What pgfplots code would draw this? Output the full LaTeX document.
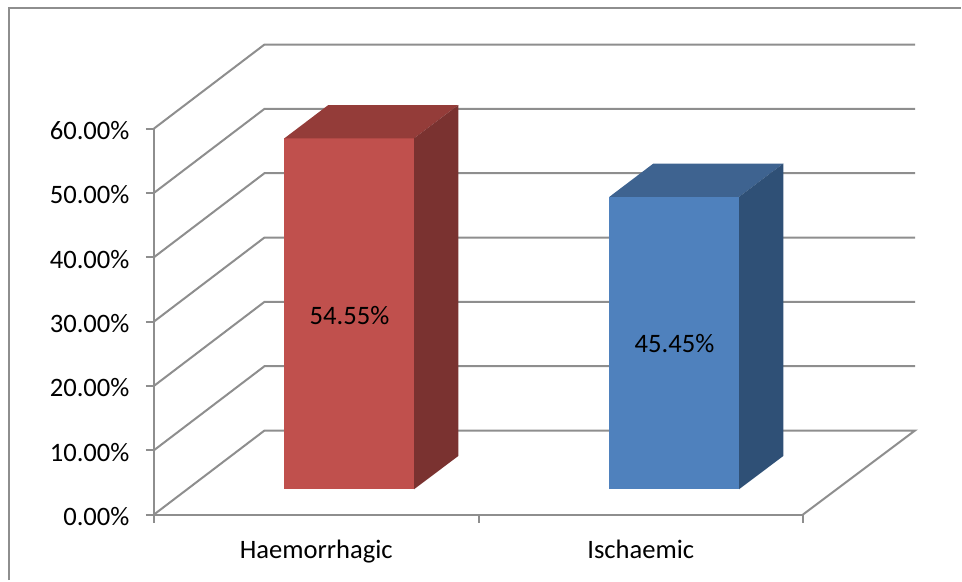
\documentclass[border=0pt]{standalone}
\usepackage{fontspec}
\setmainfont{Carlito}
\usepackage{pgfplots}
\pgfplotsset{compat=1.18}
\definecolor{gridc}{HTML}{8E8E8E}
\definecolor{redf}{HTML}{C0504D}
\definecolor{redt}{HTML}{943C39}
\definecolor{reds}{HTML}{7A3230}
\definecolor{bluef}{HTML}{4F81BD}
\definecolor{bluet}{HTML}{3E6390}
\definecolor{blues}{HTML}{2F5076}
\begin{document}
\begin{tikzpicture}
\begin{axis}[
    scale only axis,
    width=649pt,
    height=386pt,
    xmin=154, xmax=803,
    ymin=0, ymax=60,
    clip=false,
    axis x line*=bottom,
    axis y line*=left,
    axis line style={gridc, line width=2pt},
    tick align=outside,
    major tick length=8pt,
    ytick={0,10,20,30,40,50,60},
    yticklabels={0.00\%,10.00\%,20.00\%,30.00\%,40.00\%,50.00\%,60.00\%},
    y tick style={gridc, line width=2pt},
    xtick={316.25,640.75},
    xticklabels={Haemorrhagic,Ischaemic},
    x tick style={draw=none},
    extra x ticks={154,478.5,803},
    extra x tick labels={},
    extra x tick style={x tick style={draw=gridc, line width=2pt}},
    tick label style={font=\fontsize{26.6}{30}\selectfont, black},
    y tick label style={xshift=-13pt, yshift=-2pt},
    x tick label style={yshift=-14pt},
]
% outer frame, open at right and bottom
\addplot[gridc, line width=2pt, mark=none] coordinates {(9,-10.18) (9,78.74) (961,78.74)};
% floor
\addplot[gridc, line width=2pt, mark=none] coordinates {(154,0) (264.5,13.06) (915,13.06) (803,0)};
% walls
\addplot[gridc, line width=2pt, mark=none] coordinates {(154,10) (264.5,23.06) (915,23.06)};
\addplot[gridc, line width=2pt, mark=none] coordinates {(154,20) (264.5,33.06) (915,33.06)};
\addplot[gridc, line width=2pt, mark=none] coordinates {(154,30) (264.5,43.06) (915,43.06)};
\addplot[gridc, line width=2pt, mark=none] coordinates {(154,40) (264.5,53.06) (915,53.06)};
\addplot[gridc, line width=2pt, mark=none] coordinates {(154,50) (264.5,63.06) (915,63.06)};
\addplot[gridc, line width=2pt, mark=none] coordinates {(154,60) (264.5,73.06) (915,73.06)};
% Haemorrhagic 54.55
\addplot[fill=redf, draw=none, mark=none] coordinates {(284.3,3.92) (414,3.92) (414,58.47) (284.3,58.47)} --cycle;
\addplot[fill=redt, draw=none, mark=none] coordinates {(284.3,58.47) (414,58.47) (458.3,63.65) (328.3,63.65)} --cycle;
\addplot[fill=reds, draw=none, mark=none] coordinates {(414,3.92) (458.3,9.10) (458.3,63.65) (414,58.47)} --cycle;
% Ischaemic 45.45
\addplot[fill=bluef, draw=none, mark=none] coordinates {(609.3,3.92) (739,3.92) (739,49.37) (609.3,49.37)} --cycle;
\addplot[fill=bluet, draw=none, mark=none] coordinates {(609.3,49.37) (739,49.37) (783.3,54.55) (653.3,54.55)} --cycle;
\addplot[fill=blues, draw=none, mark=none] coordinates {(739,3.92) (783.3,9.10) (783.3,54.55) (739,49.37)} --cycle;
\node[font=\fontsize{26.6}{30}\selectfont] at (axis cs:349.5,31) {54.55\%};
\node[font=\fontsize{26.6}{30}\selectfont] at (axis cs:674.5,26.55) {45.45\%};
\path (axis cs:0,-10.34) rectangle (axis cs:962,79.98);
\end{axis}
\end{tikzpicture}
\end{document}
